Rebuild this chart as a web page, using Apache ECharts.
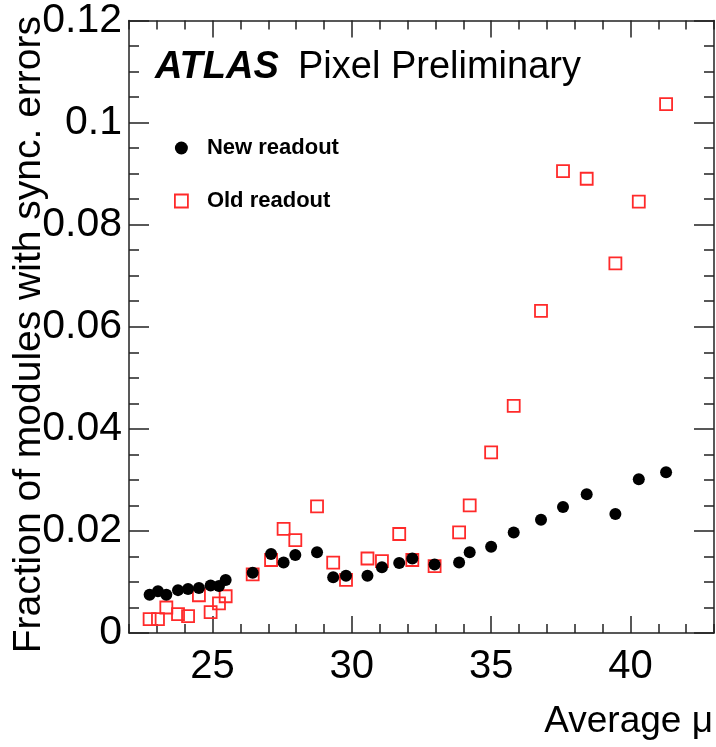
<!DOCTYPE html>
<html>
<head>
<meta charset="utf-8">
<script src="https://cdn.jsdelivr.net/npm/echarts@6/dist/echarts.min.js"></script>
<style>
html,body{margin:0;padding:0;background:#fff;}
#chart{width:716px;height:747px;}
</style>
</head>
<body>
<div id="chart"></div>
<script>
// ---- data ----
const averageMu = [22.74, 23.04, 23.34, 23.76, 24.12, 24.51, 24.93, 25.23, 25.47, 26.44, 27.10, 27.55, 27.97, 28.75, 29.33, 29.79, 30.56, 31.08, 31.70, 32.17, 32.97, 33.85, 34.23, 35.00, 35.81, 36.79, 37.58, 38.43, 39.46, 40.30, 41.28];
const newReadout = [0.0075, 0.0082, 0.0075, 0.0084, 0.0086, 0.0088, 0.0093, 0.0092, 0.0104, 0.0118, 0.0155, 0.0138, 0.0153, 0.0158, 0.0109, 0.0112, 0.0112, 0.0129, 0.0137, 0.0146, 0.0134, 0.0138, 0.0158, 0.0169, 0.0197, 0.0222, 0.0247, 0.0272, 0.0233, 0.0301, 0.0315];
const oldReadout = [0.0027, 0.0027, 0.0050, 0.0037, 0.0033, 0.0074, 0.0041, 0.0058, 0.0072, 0.0115, 0.0143, 0.0204, 0.0182, 0.0248, 0.0138, 0.0104, 0.0146, 0.0141, 0.0194, 0.0143, 0.0131, 0.0197, 0.0250, 0.0354, 0.0445, 0.0631, 0.0905, 0.0890, 0.0724, 0.0845, 0.1036];
const seriesNames = ['New readout', 'Old readout'];
const xMajorTicks = [25, 30, 35, 40];
const xRange = [22, 43];
const yRange = [0, 0.12];
const yInterval = 0.02;
const xTitle = 'Average \u03bc';
const yTitle = 'Fraction of modules with sync. errors';
const experiment = 'ATLAS';
const subLabel = 'Pixel Preliminary';

// ---- chart ----
const FONT = '"Liberation Sans", Arial, Helvetica, sans-serif';
const AX = '#222';
const RED = '#ff2a2a';
const toPairs = (xs, ys) => xs.map((x, i) => [x, ys[i]]);

const chart = echarts.init(document.getElementById('chart'), null, {renderer: 'canvas'});

function xAxisDef(pos, major, labels) {
  const a = {
    type: 'value', position: pos, min: xRange[0], max: xRange[1],
    splitLine: {show: false},
    axisLine: {show: true, onZero: false, lineStyle: {color: AX, width: 1.5}},
    axisTick: {show: true, inside: true, length: major ? 17 : 9, lineStyle: {color: AX, width: 1.5}},
    axisLabel: {show: false}
  };
  if (major) {
    a.axisTick.customValues = xMajorTicks;
    a.axisLine.show = false;
  } else {
    a.interval = 1;
  }
  if (labels) {
    a.axisLabel = {
      show: true, customValues: xMajorTicks,
      fontFamily: FONT, fontSize: 40, color: '#000', margin: 14
    };
  }
  return a;
}
function yAxisDef(pos, labels) {
  return {
    type: 'value', position: pos, min: yRange[0], max: yRange[1], interval: yInterval,
    splitLine: {show: false},
    axisLine: {show: true, onZero: false, lineStyle: {color: AX, width: 1.5}},
    axisTick: {show: true, inside: true, length: 20, lineStyle: {color: AX, width: 1.5}},
    minorTick: {show: true, splitNumber: 4, length: 10, lineStyle: {color: AX, width: 1.5}},
    axisLabel: labels ? {
      show: true, fontFamily: FONT, fontSize: 41, color: '#000', margin: 7,
      formatter: v => String(+v.toFixed(2))
    } : {show: false}
  };
}

const option = {
  backgroundColor: '#fff',
  animation: false,
  grid: {left: 129, right: 2, top: 20.5, bottom: 114, containLabel: false},
  xAxis: [
    xAxisDef('bottom', false, false),
    xAxisDef('bottom', true, true),
    xAxisDef('top', false, false),
    xAxisDef('top', true, false)
  ],
  yAxis: [yAxisDef('left', true), yAxisDef('right', false)],
  legend: {
    orient: 'vertical', left: 169, top: 132, itemGap: 31,
    itemWidth: 13, itemHeight: 13,
    textStyle: {fontFamily: FONT, fontSize: 22, fontWeight: 'bold', color: '#000', padding: [0, 0, 0, 14]},
    data: [
      {name: seriesNames[0], icon: 'circle', itemStyle: {color: '#000', opacity: 1}},
      {name: seriesNames[1], icon: 'rect', itemStyle: {color: 'rgba(255,255,255,0)', borderColor: RED, borderWidth: 1.8, opacity: 1}}
    ]
  },
  series: [
    {
      name: seriesNames[1], type: 'scatter', xAxisIndex: 0, yAxisIndex: 0,
      symbol: 'rect', symbolSize: 12, z: 2,
      itemStyle: {color: 'rgba(255,255,255,0)', borderColor: RED, borderWidth: 1.8, opacity: 1},
      data: toPairs(averageMu, oldReadout)
    },
    {
      name: seriesNames[0], type: 'scatter', xAxisIndex: 0, yAxisIndex: 0,
      symbol: 'circle', symbolSize: 12, z: 3,
      itemStyle: {color: '#000', opacity: 1},
      data: toPairs(averageMu, newReadout)
    }
  ],
  graphic: [
    {type: 'text', left: 155, top: 49, style: {text: experiment, font: 'italic bold 38px ' + FONT, fill: '#000'}},
    {type: 'text', left: 298, top: 49, style: {text: subLabel, font: '38px ' + FONT, fill: '#000'}},
    {type: 'text', x: 713, y: 722, style: {text: xTitle, font: '37px ' + FONT, fill: '#000', align: 'right', verticalAlign: 'middle'}},
    {type: 'text', x: 29, y: 16, rotation: Math.PI / 2, style: {text: yTitle, font: '39px ' + FONT, fill: '#000', align: 'right', verticalAlign: 'middle'}}
  ]
};
chart.setOption(option);
</script>
</body>
</html>
